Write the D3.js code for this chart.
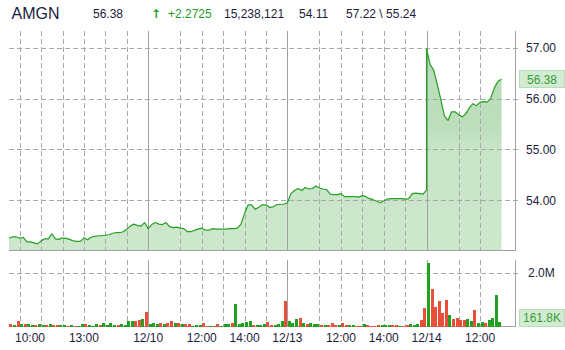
<!DOCTYPE html>
<html lang="en">
<head>
<meta charset="UTF-8">
<title>AMGN</title>
<script src="https://d3js.org/d3.v7.min.js"></script>
<style>
  body { margin: 0; background: #fff; }
  svg text { font-family: "Liberation Sans", Arial, sans-serif; }
  svg text.arrow { font-family: "DejaVu Sans", sans-serif; font-weight: bold; }
</style>
</head>
<body>
<svg id="chart" width="565" height="350"></svg>
<script>
// quote header
const symbol = "AMGN";
const lastPrice = 56.38;
const change = "+2.2725";
const totalVolume = "15,238,121";
const prevClose = "54.11";
const highLow = ["57.22", "55.24"];

// one entry per trading day, prices every 10 min from the 9:30 open
const dayLabels = ["12/09", "12/10", "12/13", "12/14"];
const price0 = [53.25, 53.28, 53.28, 53.25, 53.27, 53.18, 53.18, 53.16, 53.14, 53.20,
  53.24, 53.24, 53.34, 53.24, 53.23, 53.26, 53.25, 53.23, 53.20, 53.19,
  53.19, 53.26, 53.22, 53.27, 53.29, 53.30, 53.30, 53.31, 53.32, 53.35,
  53.36, 53.36, 53.38, 53.43, 53.49, 53.53, 53.50, 53.49, 53.56, 53.44];
const price1 = [53.44, 53.52, 53.56, 53.53, 53.52, 53.56, 53.48, 53.46, 53.47, 53.45,
  53.44, 53.38, 53.38, 53.41, 53.43, 53.45, 53.41, 53.41, 53.44, 53.43,
  53.43, 53.43, 53.43, 53.44, 53.44, 53.45, 53.53, 53.74, 53.91, 53.91,
  53.82, 53.86, 53.91, 53.91, 53.86, 53.87, 53.91, 53.92, 53.92, 53.95];
const price2 = [53.95, 54.13, 54.19, 54.23, 54.19, 54.25, 54.22, 54.23, 54.28, 54.24,
  54.22, 54.21, 54.12, 54.11, 54.11, 54.13, 54.07, 54.07, 54.07, 54.07,
  54.06, 54.09, 54.07, 54.03, 54.01, 53.98, 53.95, 53.99, 54.02, 54.03,
  54.03, 54.03, 54.03, 54.02, 54.03, 54.13, 54.14, 54.13, 54.12, 54.20];
const price3 = [56.98, 56.67, 56.56, 56.28, 55.98, 55.66, 55.57, 55.74, 55.74, 55.68,
  55.64, 55.70, 55.82, 55.90, 55.86, 55.93, 55.94, 55.93, 56.01, 56.21,
  56.34, 56.38];
const prices = [price0, price1, price2, price3];

// 10-min volume (thousand shares), g = up bar, r = down bar
const vol0 = [100, 60, 210, 100, 100, 100, 40, 60, 100, 60, 60, 100, 60, 60, 40, 60, 30, 60, 30, 30,
  100, 100, 60, 30, 100, 60, 140, 60, 140, 60, 60, 100, 60, 210, 210, 210, 250, 290, 550];
const dir0 = "rgrgrggrgg" + "rgrrggrgrg" + "grgggrgggg" + "rggggrrgr";
const vol1 = [100, 125, 90, 125, 90, 125, 210, 140, 140, 100, 100, 100, 30, 60, 60, 140, 30, 30, 30, 100,
  30, 100, 100, 140, 850, 100, 140, 175, 210, 60, 60, 60, 100, 175, 60, 60, 100, 210, 960];
const dir1 = "gggrgrrgrg" + "rrgggrrgrr" + "gggrgggggr" + "gggrrgggr";
const vol2 = [210, 140, 290, 325, 140, 100, 140, 100, 100, 60, 60, 60, 140, 60, 60, 125, 60, 60, 60, 30,
  30, 100, 60, 30, 30, 60, 60, 60, 60, 60, 60, 30, 30, 60, 100, 60, 100, 250, 700];
const dir2 = "gggrgrgggr" + "grrrgrrggr" + "rgrrrrgggr" + "rgrrgggrr";
const vol3 = [2390, 1410, 740, 960, 510, 1000, 440, 290, 325, 250, 250, 290, 210, 625, 140, 175, 140, 250, 325, 1190, 162];
const dir3 = "grrrrrgrrrrggrggrgggg";
const volumes = [vol0, vol1, vol2, vol3];
const dirs = [dir0, dir1, dir2, dir3];
const lastVolume = 161.8;

// axis ticks
const priceTicks = [54, 55, 56, 57];
const volTicks = [2000];
const gridHours = [[10, 11, 12, 13, 14, 15], [11, 12, 13, 14, 15], [11, 12, 13, 14, 15], [11, 12]];
const timeTicks = [
  [0, 10, "10:00"], [0, 13, "13:00"],
  [1, 9.5, "12/10"], [1, 12, "12:00"], [1, 14, "14:00"],
  [2, 9.5, "12/13"], [2, 12, "12:00"], [2, 14, "14:00"],
  [3, 9.5, "12/14"], [3, 12, "12:00"]
];

const DAY = 6.5;                       // trading hours per day
const tOf = (d, h) => d * DAY + (h - 9.5);

const svg = d3.select("#chart");
const GREEN = "#22a022", RED = "#e8503c", INK = "#1c1c3c", GRID = "#a6aaa6", FRAME = "#a0a2a0";

const x = d3.scaleLinear().domain([0, 23.63]).range([9, 515]);
const y = d3.scaleLinear().domain([53.02, 57.33]).range([250, 31]);
const yv = d3.scaleLinear().domain([0, 2500]).range([326.5, 259.8]);

// header
const head = svg.append("g").attr("fill", INK).style("font-size", "12px");
head.append("text").attr("x", 11.5).attr("y", 18.5).style("font-size", "16px").text(symbol);
head.append("text").attr("x", 93).attr("y", 17.5).text(d3.format(".2f")(lastPrice));
head.append("text").attr("class", "arrow").attr("x", 151).attr("y", 17.5).attr("fill", GREEN)
  .style("font-size", "12px").text("\u2191");
head.append("text").attr("x", 168).attr("y", 17.5).attr("fill", GREEN).text(change);
head.append("text").attr("x", 224).attr("y", 17.5).text(totalVolume);
head.append("text").attr("x", 299).attr("y", 17.5).text(prevClose);
head.append("text").attr("x", 346).attr("y", 17.5).text(highLow[0] + " \\ " + highLow[1]);

// points
const pricePts = [];
prices.forEach((arr, d) => arr.forEach((p, i) => pricePts.push({ t: d * DAY + i / 6, p })));
const bars = [];
volumes.forEach((arr, d) => arr.forEach((v, i) => bars.push({ t: d * DAY + (i + 0.5) / 6, v, up: dirs[d][i] === "g" })));

// gradient fill
const grad = svg.append("defs").append("linearGradient").attr("id", "fillGrad")
  .attr("gradientUnits", "userSpaceOnUse").attr("x1", 0).attr("x2", 0).attr("y1", 31).attr("y2", 250);
[[0, "#b6dbb6"], [0.42, "#bcdebc"], [0.55, "#c8e5c8"], [1, "#cde7cd"]].forEach(s =>
  grad.append("stop").attr("offset", s[0]).attr("stop-color", s[1]));

// area
svg.append("path").datum(pricePts)
  .attr("fill", "url(#fillGrad)")
  .attr("d", d3.area().x(d => x(d.t)).y0(250).y1(d => y(d.p)));

// gridlines
const grid = svg.append("g").attr("stroke", GRID).attr("stroke-dasharray", "5,3").attr("shape-rendering", "crispEdges");
grid.selectAll(".hp").data(priceTicks).join("line")
  .attr("x1", 9).attr("x2", 519).attr("y1", d => Math.round(y(d)) + 0.5).attr("y2", d => Math.round(y(d)) + 0.5);
grid.selectAll(".hv").data(volTicks).join("line")
  .attr("x1", 9).attr("x2", 519).attr("y1", d => Math.round(yv(d)) + 0.5).attr("y2", d => Math.round(yv(d)) + 0.5);
const vlines = [];
gridHours.forEach((hs, d) => hs.forEach(h => vlines.push(tOf(d, h))));
vlines.forEach(t => {
  const xx = Math.round(x(t)) + 0.5;
  grid.append("line").attr("x1", xx).attr("x2", xx).attr("y1", 31).attr("y2", 250);
  grid.append("line").attr("x1", xx).attr("x2", xx).attr("y1", 260).attr("y2", 326);
});

// day separators + frame
const frame = svg.append("g").attr("stroke", FRAME).attr("shape-rendering", "crispEdges");
[1, 2, 3].forEach(d => {
  const xx = Math.round(x(d * DAY)) + 0.5;
  frame.append("line").attr("x1", xx).attr("x2", xx).attr("y1", 31).attr("y2", 250);
  frame.append("line").attr("x1", xx).attr("x2", xx).attr("y1", 260).attr("y2", 326);
});
frame.append("line").attr("x1", 515.5).attr("x2", 515.5).attr("y1", 31).attr("y2", 250.5);
frame.append("line").attr("x1", 515.5).attr("x2", 515.5).attr("y1", 260).attr("y2", 327);
frame.append("line").attr("x1", 9).attr("x2", 516).attr("y1", 250.5).attr("y2", 250.5);
frame.append("line").attr("x1", 9).attr("x2", 516).attr("y1", 326.5).attr("y2", 326.5);

// price line
svg.append("path").datum(pricePts)
  .attr("fill", "none").attr("stroke", GREEN).attr("stroke-width", 1.2)
  .attr("stroke-linejoin", "round")
  .attr("d", d3.line().x(d => x(d.t)).y(d => y(d.p)));

// volume bars
const bw = (x(1 / 6) - x(0)) * 0.75;
svg.append("g").attr("shape-rendering", "crispEdges").selectAll("rect").data(bars).join("rect")
  .attr("x", d => Math.round(x(d.t) - bw / 2))
  .attr("width", Math.round(bw))
  .attr("y", d => yv(d.v))
  .attr("height", d => yv(0) - yv(d.v))
  .attr("fill", d => d.up ? GREEN : RED);

// right axes
const pAxis = svg.append("g").attr("transform", "translate(515,0)")
  .call(d3.axisRight(y).tickValues(priceTicks).tickFormat(d3.format(".2f")).tickSize(0).tickPadding(11));
const vAxis = svg.append("g").attr("transform", "translate(515,0)")
  .call(d3.axisRight(yv).tickValues(volTicks).tickFormat(d => d3.format(".1f")(d / 1000) + "M").tickSize(0).tickPadding(13));
[pAxis, vAxis].forEach(a => {
  a.select(".domain").remove();
  a.selectAll("text").attr("fill", INK).style("font-size", "12px").attr("font-family", null);
});

// last value badges
function badge(cy, label) {
  const g = svg.append("g");
  g.append("rect").attr("x", 519.5).attr("y", Math.round(cy) - 8.5).attr("width", 45).attr("height", 17)
    .attr("fill", "#d3ebd3").attr("stroke", "#b9ddb9");
  g.append("text").attr("x", 542).attr("y", cy).attr("dy", "0.36em").attr("text-anchor", "middle")
    .attr("fill", "#33a033").style("font-size", "12px").text(label);
}
badge(y(lastPrice), d3.format(".2f")(lastPrice));
badge(Math.min(yv(lastVolume), 318), lastVolume + "K");

// time labels
const tl = svg.append("g").attr("fill", INK).style("font-size", "12px");
timeTicks.forEach(([d, h, label]) => {
  const t = tl.append("text").attr("y", 342).attr("text-anchor", "middle").attr("x", x(tOf(d, h))).text(label);
  const w = t.node().getComputedTextLength();
  if (x(tOf(d, h)) - w / 2 < 15) t.attr("text-anchor", "start").attr("x", 15);
});
</script>
</body>
</html>
